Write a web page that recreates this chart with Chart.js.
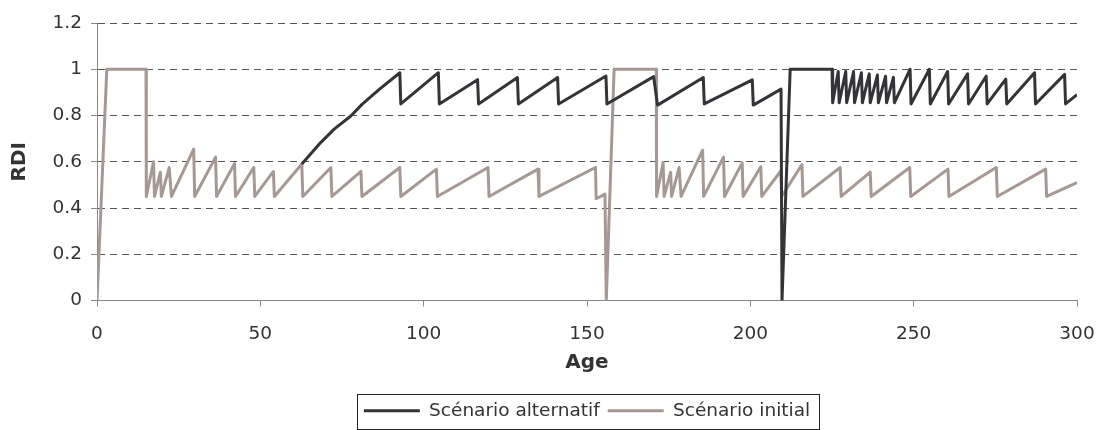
<!DOCTYPE html>
<html>
<head>
<meta charset="utf-8">
<script src="https://cdn.jsdelivr.net/npm/chart.js@4.4.1/dist/chart.umd.min.js"></script>
<style>
  html, body { margin: 0; padding: 0; background: #fff; }
</style>
</head>
<body>
<canvas id="rdi-chart" width="1101" height="430"></canvas>
<script>
// ages / RDI values
var ageInitial = [0, 3, 15, 15.1, 17.3, 17.6, 19.4, 19.7, 22.1, 22.8,
    29.6, 29.9, 36.3, 36.6, 42.1, 42.4, 48.0, 48.3, 54.0, 54.3,
    62.7, 63.0, 71.6, 71.9, 80.8, 81.1, 92.7, 93.0, 103.9, 104.2,
    119.7, 120.0, 135.0, 135.3, 152.6, 152.8, 155.5, 155.9, 158.3, 171.2,
    171.3, 173.3, 173.6, 175.6, 175.9, 178.2, 178.8, 185.4, 185.7, 191.8,
    192.1, 197.5, 197.8, 203.2, 203.5, 209.3, 209.6, 215.8, 216.1, 227.5,
    227.8, 236.7, 237.0, 248.8, 249.1, 260.5, 260.8, 275.3, 275.6, 290.4,
    290.7, 300];
var rdiInitial = [0, 1, 1, 0.45, 0.60, 0.45, 0.555, 0.45, 0.575, 0.45,
    0.655, 0.45, 0.62, 0.45, 0.592, 0.45, 0.575, 0.45, 0.558, 0.45,
    0.59, 0.45, 0.575, 0.45, 0.558, 0.45, 0.575, 0.45, 0.568, 0.45,
    0.575, 0.45, 0.568, 0.45, 0.575, 0.44, 0.46, 0, 1, 1,
    0.45, 0.597, 0.45, 0.554, 0.45, 0.575, 0.45, 0.65, 0.45, 0.62,
    0.45, 0.595, 0.45, 0.578, 0.45, 0.56, 0.45, 0.588, 0.45, 0.575,
    0.45, 0.555, 0.45, 0.575, 0.45, 0.568, 0.45, 0.575, 0.45, 0.568,
    0.45, 0.51];

var ageAlt = [62.7, 68.0, 72.6, 77.7, 81.2, 86.5, 92.7, 93.0, 104.5, 104.8,
    116.5, 116.8, 128.7, 129.0, 141.0, 141.3, 155.8, 156.1, 170.4, 171.6,
    185.6, 185.9, 200.6, 200.9, 209.4, 209.7, 212.2, 225.0, 225.2, 226.9,
    227.2, 229.2, 229.5, 231.6, 231.9, 234.0, 234.3, 236.4, 236.7, 238.9,
    239.2, 241.4, 241.7, 243.8, 244.1, 248.9, 249.2, 254.8, 255.1, 260.4,
    260.7, 266.5, 266.8, 272.2, 272.5, 278.2, 278.5, 287.0, 287.3, 296.2,
    296.5, 300];
var rdiAlt = [0.59, 0.676, 0.741, 0.798, 0.849, 0.914, 0.985, 0.85, 0.985, 0.85,
    0.955, 0.85, 0.964, 0.85, 0.964, 0.85, 0.971, 0.85, 0.968, 0.845,
    0.964, 0.85, 0.954, 0.845, 0.914, 0, 1, 1, 0.855, 0.99,
    0.855, 0.99, 0.855, 0.99, 0.855, 0.985, 0.855, 0.98, 0.855, 0.975,
    0.855, 0.97, 0.855, 0.965, 0.855, 1, 0.85, 1, 0.85, 0.99,
    0.85, 0.98, 0.85, 0.97, 0.85, 0.957, 0.85, 0.985, 0.85, 0.978,
    0.85, 0.89];

var ageTicks = [0, 50, 100, 150, 200, 250, 300];
var rdiTicks = [0, 0.2, 0.4, 0.6, 0.8, 1, 1.2];

function toPoints(xs, ys) {
    return xs.map((x, i) => ({ x: x, y: ys[i] }));
}

Chart.defaults.font.family = "'DejaVu Sans', sans-serif";
Chart.defaults.color = '#333';

// frame around the legend items, like the original
var legendFrame = {
    id: 'legendFrame',
    afterDraw(chart) {
        var lg = chart.legend;
        if (!lg || !lg.legendHitBoxes || !lg.legendHitBoxes.length) return;
        var first = lg.legendHitBoxes[0];
        var last = lg.legendHitBoxes[lg.legendHitBoxes.length - 1];
        var x1 = Math.round(first.left - 7) + 0.5;
        var x2 = Math.round(last.left + last.width + 9) + 0.5;
        var y1 = Math.round(lg.top) + 0.5;
        var y2 = Math.round(lg.bottom) - 0.5;
        var ctx = chart.ctx;
        ctx.save();
        ctx.strokeStyle = '#222';
        ctx.lineWidth = 1;
        ctx.strokeRect(x1, y1, x2 - x1, y2 - y1);
        ctx.restore();
    }
};

new Chart(document.getElementById('rdi-chart'), {
    type: 'line',
    data: {
        datasets: [{
            label: 'Scénario alternatif',
            data: toPoints(ageAlt, rdiAlt),
            borderColor: '#343438',
            backgroundColor: '#343438',
            borderWidth: 3,
            pointRadius: 0,
            tension: 0,
            borderJoinStyle: 'round'
        }, {
            label: 'Scénario initial',
            data: toPoints(ageInitial, rdiInitial),
            borderColor: '#a69893',
            backgroundColor: '#a69893',
            borderWidth: 3,
            pointRadius: 0,
            tension: 0,
            borderJoinStyle: 'round'
        }]
    },
    options: {
        responsive: false,
        animation: false,
        layout: { padding: 0 },
        plugins: {
            tooltip: { enabled: false },
            legend: {
                position: 'bottom',
                fullSize: false,
                labels: {
                    usePointStyle: true,
                    pointStyle: 'line',
                    pointStyleWidth: 56,
                    padding: 8,
                    color: '#333',
                    font: { size: 18.5 }
                }
            }
        },
        scales: {
            x: {
                type: 'linear',
                min: 0,
                max: 300,
                afterBuildTicks: s => { s.ticks = ageTicks.map(v => ({ value: v })); },
                afterFit: s => { s.height = 93; s.paddingRight = 24; },
                ticks: { padding: 17, color: '#333', font: { size: 18.5 }, maxRotation: 0 },
                grid: { drawOnChartArea: false, tickLength: 6, color: '#888' },
                border: { color: '#888' },
                title: {
                    display: true, text: 'Age', color: '#333',
                    font: { size: 20, weight: 'bold' },
                    padding: { top: 0, bottom: 19 }
                }
            },
            y: {
                min: 0,
                max: 1.2,
                afterBuildTicks: s => { s.ticks = rdiTicks.map(v => ({ value: v })); },
                afterFit: s => { s.width = 97; s.paddingTop = 23; },
                ticks: {
                    padding: 9, color: '#333', font: { size: 18.5 },
                    callback: v => String(Math.round(v * 10) / 10)
                },
                grid: {
                    tickLength: 6,
                    color: c => (c.tick && c.tick.value === 0 ? 'rgba(0,0,0,0)' : '#555'),
                    tickColor: '#888',
                    tickBorderDash: []
                },
                border: { color: '#888', dash: [7, 5] },
                title: {
                    display: true, text: 'RDI', color: '#333',
                    font: { size: 20, weight: 'bold' },
                    padding: { top: 8, bottom: 4 }
                }
            }
        }
    },
    plugins: [legendFrame]
});
</script>
</body>
</html>
